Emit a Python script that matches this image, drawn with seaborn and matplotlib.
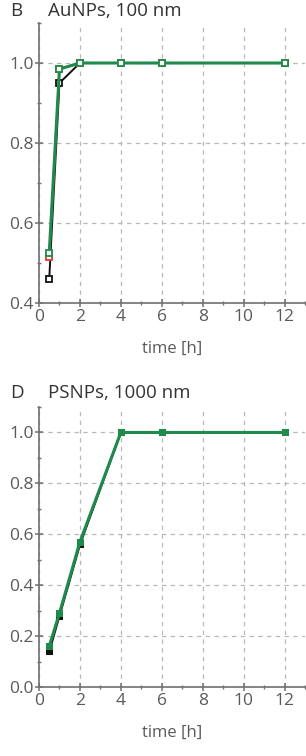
import matplotlib
matplotlib.use("Agg")
import matplotlib.pyplot as plt
import seaborn as sns
import pandas as pd
from matplotlib.ticker import MultipleLocator

sns.set_style("white")
plt.rcParams['font.family'] = ['Open Sans', 'DejaVu Sans']

time_h = [0.5, 1, 2, 4, 6, 12]
# Panel B: AuNPs, 100 nm
au_black = [0.46, 0.95, 1.0, 1.0, 1.0, 1.0]
au_red = [0.515, 0.985, 1.0, 1.0, 1.0, 1.0]
au_green = [0.525, 0.985, 1.0, 1.0, 1.0, 1.0]
# Panel D: PSNPs, 1000 nm
ps_black = [0.14, 0.28, 0.56, 1.0, 1.0, 1.0]
ps_green = [0.16, 0.29, 0.57, 1.0, 1.0, 1.0]

series_colors = {"black": "#111111", "red": "#e23a2e", "green": "#1f8a4c"}
text_col = "#5a5a5a"
axis_col = "#707070"

W, H = 306, 756
fig = plt.figure(figsize=(W / 100, H / 100), dpi=100)

def add_ax(top_px, bottom_px):
    return fig.add_axes([39 / W, 1 - bottom_px / H, (305 - 39) / W, (bottom_px - top_px) / H])

def style(ax, ylim, yticks):
    ax.set_xlim(0, 13)
    ax.set_ylim(*ylim)
    ax.xaxis.set_major_locator(MultipleLocator(2))
    ax.xaxis.set_minor_locator(MultipleLocator(1))
    ax.set_yticks(yticks)
    ax.yaxis.set_minor_locator(MultipleLocator(0.1))
    for s in ["top", "right"]:
        ax.spines[s].set_visible(False)
    for s in ["left", "bottom"]:
        ax.spines[s].set_color(axis_col)
        ax.spines[s].set_linewidth(1.2)
    ax.tick_params(axis="both", which="major", direction="inout", length=6, width=1.1,
                   color=axis_col, labelcolor=text_col, labelsize=12.5, pad=1)
    ax.tick_params(axis="both", which="minor", direction="inout", length=3, width=1,
                   color=axis_col)
    ax.xaxis.set_ticks_position("bottom")
    ax.yaxis.set_ticks_position("left")
    ax.grid(True, which="major", color="#b8b8b8", linestyle=(0, (3.5, 3.5)), linewidth=0.9)
    ax.set_axisbelow(True)
    ax.set_xlabel("time [h]", color=text_col, fontsize=12, labelpad=12)
    ax.set_ylabel("")

# Panel B
axB = add_ax(23, 303)
dfB = pd.DataFrame({
    "time": time_h * 3,
    "value": au_black + au_red + au_green,
    "series": ["black"] * 6 + ["red"] * 6 + ["green"] * 6,
})
for name in ["black", "red", "green"]:
    sub = dfB[dfB["series"] == name]
    sns.lineplot(data=sub, x="time", y="value", ax=axB, color=series_colors[name],
                 linewidth=2.2 if name == "green" else 1.4, marker="s", markersize=4.5,
                 markerfacecolor="white", markeredgecolor=series_colors[name],
                 markeredgewidth=1.3, legend=False)
style(axB, (0.4, 1.1), [0.4, 0.6, 0.8, 1.0])

# Panel D
axD = add_ax(407, 687)
dfD = pd.DataFrame({
    "time": time_h * 2,
    "value": ps_black + ps_green,
    "series": ["black"] * 6 + ["green"] * 6,
})
for name in ["black", "green"]:
    sub = dfD[dfD["series"] == name]
    sns.lineplot(data=sub, x="time", y="value", ax=axD, color=series_colors[name],
                 linewidth=2.2 if name == "green" else 1.6, marker="s", markersize=4,
                 markerfacecolor=series_colors[name], markeredgecolor=series_colors[name],
                 legend=False)
style(axD, (0.0, 1.1), [0.0, 0.2, 0.4, 0.6, 0.8, 1.0])

fig.text(10 / W, 1 - 11 / H, "B", fontsize=13.5, color="#333333", va="center", ha="left")
fig.text(48 / W, 1 - 11 / H, "AuNPs, 100 nm", fontsize=13.5, color="#333333", va="center", ha="left")
fig.text(10 / W, 1 - 393 / H, "D", fontsize=13.5, color="#333333", va="center", ha="left")
fig.text(48 / W, 1 - 393 / H, "PSNPs, 1000 nm", fontsize=13.5, color="#333333", va="center", ha="left")

fig.savefig("out.png", dpi=100)
